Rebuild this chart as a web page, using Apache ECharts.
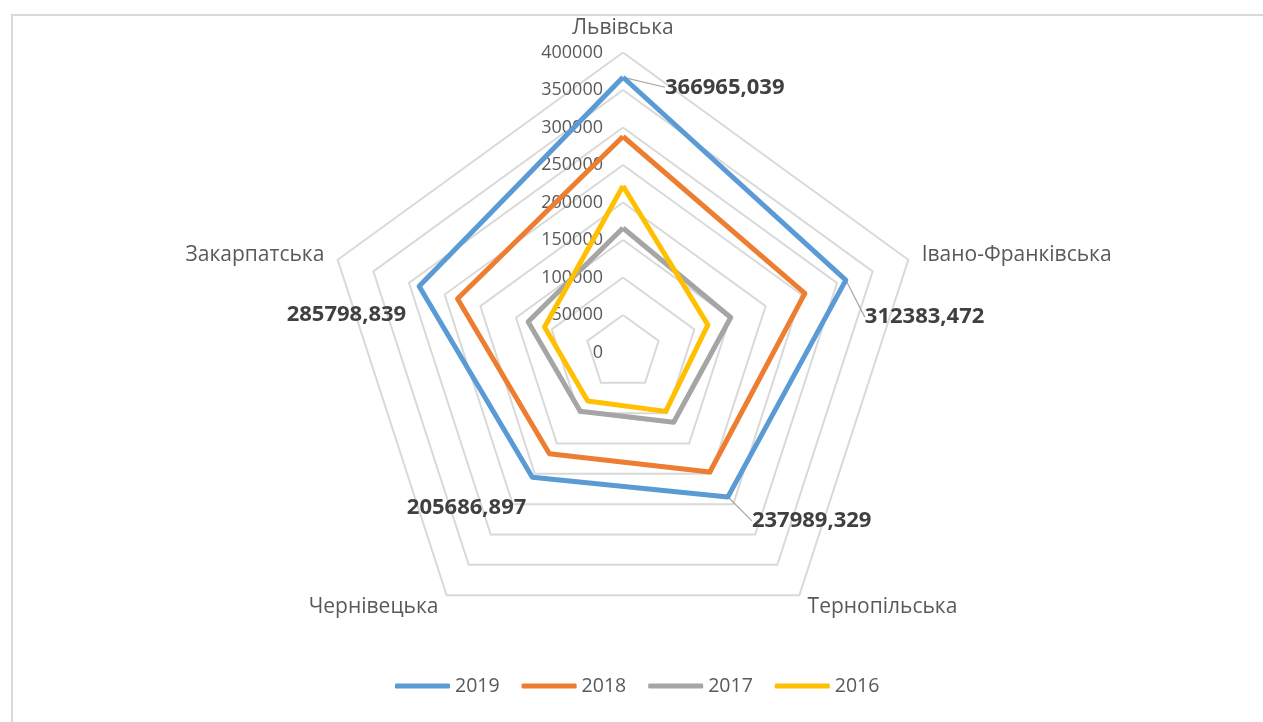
<!DOCTYPE html>
<html>
<head>
<meta charset="utf-8">
<script src="https://cdn.jsdelivr.net/npm/echarts@6/dist/echarts.min.js"></script>
<style>
    html, body { margin: 0; padding: 0; background: #fff; }
    .frame {
        position: absolute; left: 11px; top: 14px; right: 0; bottom: 0;
        border-top: 2px solid #d9d9d9; border-left: 2px solid #d9d9d9;
    }
    .chart { position: absolute; left: 0; top: 0; width: 1263px; height: 722px; }
</style>
</head>
<body>
<div class="frame"></div>
<div id="chart" class="chart"></div>
<script>
    // regions clockwise from the top, as in the picture
    const regions = ['Львівська', 'Івано-Франківська', 'Тернопільська', 'Чернівецька', 'Закарпатська']
    const years = ['2019', '2018', '2017', '2016']
    const values2019 = [366965.039, 312383.472, 237989.329, 205686.897, 285798.839]
    const values2018 = [288000, 255000, 197000, 167000, 232000]
    const values2017 = [166000, 151000, 115000, 97000, 133000]
    const values2016 = [222000, 119000, 97000, 80000, 110000]
    const colors = ['#5B9BD5', '#ED7D31', '#A5A5A5', '#FFC000']
    // regions whose 2019 label has no leader line
    const noLeader = ['Чернівецька', 'Закарпатська']
    const axisMax = 400000

    const CX = 623, CY = 352.5
    const font = '"Open Sans", sans-serif'

    // echarts lays out radar indicators counter-clockwise, so flip the order
    const ccw = arr => [arr[0]].concat(arr.slice(1).reverse())

    const indicators = ccw(regions).map((name, i) => ({
        name: name,
        min: 0,
        max: axisMax,
        axisLabel: { show: i === 0 }
    }))

    const fmt = v => v.toFixed(3).replace('.', ',')
    const regionOf = v => regions[values2019.indexOf(v)]

    // place the 2019 value labels the way the picture does, by direction from the centre
    function placeLabel (p) {
        const px = p.rect.x + p.rect.width / 2
        const py = p.rect.y + p.rect.height / 2
        const dx = px - CX, dy = py - CY
        if (Math.abs(dx) < 20 && dy < 0) return { x: px + 42, y: py + 10, align: 'left', verticalAlign: 'middle' }
        if (dx > 0 && dy < 0) return { x: px + 19, y: py + 37, align: 'left', verticalAlign: 'middle' }
        if (dx > 0) return { x: px + 24, y: py + 24, align: 'left', verticalAlign: 'middle' }
        if (dy > 0) return { x: px - 6, y: py + 30, align: 'right', verticalAlign: 'middle' }
        return { x: px - 13, y: py + 28, align: 'right', verticalAlign: 'middle' }
    }

    // same, but labels that are not shown sit on their point so the leader has no length
    function placeLeaderLabel (p) {
        const px = p.rect.x + p.rect.width / 2
        const py = p.rect.y + p.rect.height / 2
        if (px - CX < -20) return { x: px, y: py, align: 'center', verticalAlign: 'middle' }
        return placeLabel(p)
    }

    const labelStyle = {
        show: true,
        color: '#404040',
        fontSize: 22,
        fontWeight: 'bold',
        fontFamily: font
    }

    const seriesValues = [values2019, values2018, values2017, values2016]

    const lineSeries = years.map((y, i) => ({
        name: y,
        type: 'radar',
        symbol: 'none',
        z: 2 + i,
        itemStyle: { color: colors[i] },
        lineStyle: { color: colors[i], width: 5 },
        data: [{ name: y, value: ccw(seriesValues[i]) }]
    }))

    // two invisible copies of 2019 that carry its value labels
    const labelSeries = [true, false].map(leader => ({
        name: leader ? '2019 labels a' : '2019 labels b',
        type: 'radar',
        symbol: 'circle',
        symbolSize: 1,
        z: 1,
        itemStyle: { color: 'rgba(0,0,0,0)' },
        lineStyle: { color: 'rgba(0,0,0,0)', width: 0 },
        data: [{ name: '2019', value: ccw(values2019) }],
        label: Object.assign({}, labelStyle, {
            formatter: p => (noLeader.indexOf(regionOf(p.value)) >= 0) !== leader ? fmt(p.value) : ''
        }),
        labelLine: leader ? { show: true, lineStyle: { color: '#a6a6a6', width: 1.2 } } : { show: false },
        labelLayout: leader ? placeLeaderLabel : placeLabel
    }))

    const chart = echarts.init(document.getElementById('chart'))
    chart.setOption({
        animation: false,
        textStyle: { fontFamily: font },
        legend: {
            data: years,
            bottom: 21,
            left: 390,
            icon: 'roundRect',
            itemWidth: 55,
            itemHeight: 5,
            itemGap: 22,
            textStyle: { color: '#595959', fontSize: 19.5, fontFamily: font }
        },
        radar: {
            center: [CX, CY],
            radius: 300,
            startAngle: 90,
            splitNumber: 8,
            shape: 'polygon',
            indicator: indicators,
            nameGap: 14,
            axisName: { color: '#595959', fontSize: 21, fontFamily: font },
            axisLine: { show: false },
            axisTick: { show: false },
            axisLabel: {
                color: '#595959', fontSize: 18, fontFamily: font, margin: 20,
                formatter: v => String(v)
            },
            splitLine: { lineStyle: { color: '#d9d9d9', width: 2 } },
            splitArea: { show: false }
        },
        series: lineSeries.concat(labelSeries)
    })
</script>
</body>
</html>
